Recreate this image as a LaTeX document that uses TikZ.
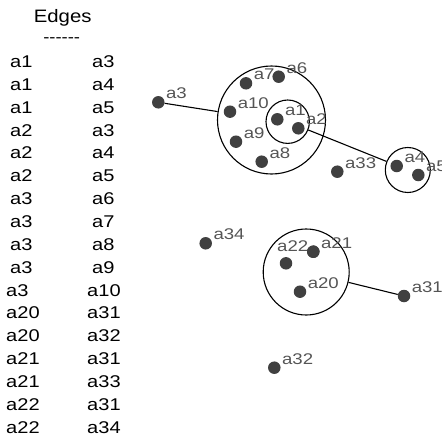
\documentclass[tikz,border=0pt]{standalone}
\usepackage{fontspec}
\setmainfont{Liberation Sans}
\definecolor{dotc}{HTML}{404040}
\definecolor{labc}{HTML}{555555}
\newcommand{\wtext}[2]{\scalebox{#1}[1]{#2}}
\begin{document}
\begin{tikzpicture}[x=1pt,y=-1pt,
  dot/.style={circle,fill=dotc,inner sep=0pt,minimum size=12.5pt},
  lab/.style={anchor=base west,inner sep=0pt,text=labc,font=\fontsize{15.5}{15.5}\selectfont},
  tab/.style={anchor=base west,inner sep=0pt,font=\fontsize{17}{17}\selectfont},
  grp/.style={circle,draw,line width=1.1pt,inner sep=0pt},
  edge/.style={line width=1.1pt}
]
\useasboundingbox[fill=white] (0,0) rectangle (442,439);
% table
\node[anchor=base,inner sep=0pt,font=\fontsize{18}{18}\selectfont] (title) at (62.7,22) {\wtext{1.13}{Edges}};
\node[anchor=base,inner sep=0pt,font=\fontsize{16}{16}\selectfont] (dash) at (61.7,42.3) {\wtext{1.15}{-{}-{}-{}-{}-{}-}};
\foreach \i/\u/\v in {1/a1/a3,2/a1/a4,3/a1/a5,4/a2/a3,5/a2/a4,6/a2/a5,7/a3/a6,8/a3/a7,9/a3/a8,10/a3/a9}{
  \node[tab] (r\i u) at (10,{67.5+22.85*(\i-1)}) {\wtext{1.18}{\u}};
  \node[tab] (r\i v) at (92,{67.5+22.85*(\i-1)}) {\wtext{1.18}{\v}};
}
\foreach \i/\u/\v in {11/a3/a10,12/a20/a31,13/a20/a32,14/a21/a31,15/a21/a33,16/a22/a31,17/a22/a34}{
  \node[tab] (r\i u) at (6,{67.5+22.85*(\i-1)}) {\wtext{1.18}{\u}};
  \node[tab] (r\i v) at (87,{67.5+22.85*(\i-1)}) {\wtext{1.18}{\v}};
}
% group circles
\node[grp,minimum size=108pt] (c1) at (271.5,120) {};
\node[grp,minimum size=43.4pt] (c2) at (287.7,121.7) {};
\node[grp,minimum size=45pt] (c3) at (407.8,170) {};
\node[grp,minimum size=86pt] (c4) at (306.2,272) {};
% dots with labels at upper right
\foreach \n/\x/\y in {a3/158.3/102.3,a7/246/83.3,a6/278.7/76.7,a10/230/111.7,a1/277.3/119.3,a2/298.3/128.3,a9/236/141.7,a8/261.7/161.7,a4/396.7/166,a5/418.3/175,a33/337.3/171.7,a34/205.7/243.3,a21/313.3/251.7,a20/300/291.7,a31/404/296,a32/274.3/367.7}{
  \node[dot] (\n) at (\x,\y) {};
  \node[lab] (\n l) at (\x+7.6,\y-3.6) {\wtext{1.2}{\n}};
}
% a22: label sits above-left
\node[dot] (a22) at (286,263.3) {};
\node[lab] (a22l) at (277,251.7) {\wtext{1.2}{a22}};
% redraw a21 dot over the a22 label
\node[dot] (a21top) at (a21) {};
% edges
\draw[edge] (a3) -- (c1);
\draw[edge] (c2) -- (c3);
\draw[edge] (c4) -- (a31);
\end{tikzpicture}
\end{document}
